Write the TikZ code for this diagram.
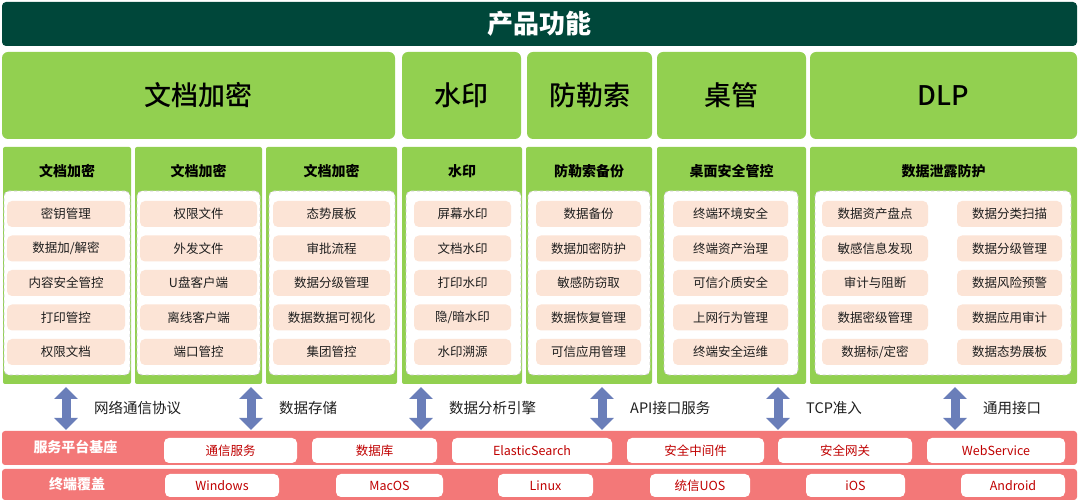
\documentclass[tikz,border=0pt]{standalone}
\usepackage{fontspec}
\setmainfont{Noto Sans CJK SC}
\newfontfamily\medfont{Noto Sans CJK SC Medium}
\usepackage{xcolor}
\usepackage{tikz}
\usetikzlibrary{arrows.meta,positioning}
\definecolor{pdgreen}{RGB}{0,71,58}
\definecolor{pdlime}{RGB}{146,208,80}
\definecolor{pdpeach}{RGB}{252,228,214}
\definecolor{pdred}{RGB}{243,120,120}
\definecolor{pdblue}{RGB}{106,126,185}
\definecolor{pddarkred}{RGB}{192,0,0}
\definecolor{pdgrey}{RGB}{200,200,200}
\definecolor{pdtext}{RGB}{30,30,30}

\begin{document}
\begin{tikzpicture}[x=1pt, y=-1pt,
    topbar/.style={fill=pdgreen, rounded corners=4pt, inner sep=0pt,
                   text=white, font=\fontsize{26}{30}\selectfont\bfseries},
    bigbox/.style={fill=pdlime, rounded corners=6pt, inner sep=0pt,
                   minimum height=87pt, font=\fontsize{27}{32}\selectfont\medfont},
    colbox/.style={fill=pdlime, rounded corners=2pt, inner sep=0pt,
                   minimum height=237pt},
    colhead/.style={inner sep=0pt, font=\fontsize{14}{16}\selectfont\bfseries},
    inner/.style={fill=white, draw=pdgrey, dashed, line width=0.8pt,
                  rounded corners=5pt, inner sep=0pt, minimum height=184pt},
    item/.style={fill=pdpeach, rounded corners=5pt, inner sep=0pt,
                 minimum height=26pt, text=pdtext,
                 font=\fontsize{12.5}{14}\selectfont},
    arr/.style={{Triangle[width=23pt,length=12pt]}-{Triangle[width=23pt,length=12pt]},
                line width=9pt, pdblue},
    lbl/.style={anchor=west, inner sep=0pt, text=pdtext,
                font=\fontsize{14.5}{16}\selectfont},
    redbar/.style={fill=pdred, rounded corners=3pt, inner sep=0pt,
                   minimum width=1075pt},
    barlabel/.style={inner sep=0pt, text=white,
                     font=\fontsize{14}{16}\selectfont\bfseries},
    pill/.style={fill=white, rounded corners=5pt, inner sep=0pt,
                 text=pddarkred, font=\fontsize{12.5}{14}\selectfont},
  ]
  \useasboundingbox (0,0) rectangle (1080,502);

  % --- Title bar ---
  \node[topbar, minimum width=1075pt, minimum height=44pt] (title) at (539.5,24) {产品功能};

  % --- Product groups ---
  \node[bigbox, minimum width=393pt] (gdoc) at (198.5,95.5) {文档加密};
  \node[bigbox, minimum width=119pt] (gwm)  at (461.5,95.5) {水印};
  \node[bigbox, minimum width=125pt] (grs)  at (589.5,95.5) {防勒索};
  \node[bigbox, minimum width=149pt] (gdsk) at (731.5,95.5) {桌管};
  \node[bigbox, minimum width=267pt] (gdlp) at (943.5,95.5) {DLP};

  % --- Column 1: 文档加密 ---
  \node[colbox, minimum width=128pt] (c1) at (67,265.5) {};
  \node[colhead] (h1) at (67,171) {文档加密};
  \node[inner, minimum width=126pt] (in1) at (67,283) {};
  \foreach \t [count=\i] in {密钥管理, 数据加/解密, 内容安全管控, 打印管控, 权限文档}
    \node[item, minimum width=118pt] (c1i\i) at (66,179.5+34.5*\i) {\t};

  % --- Column 2: 文档加密 ---
  \node[colbox, minimum width=127pt] (c2) at (198.5,265.5) {};
  \node[colhead] (h2) at (198.5,171) {文档加密};
  \node[inner, minimum width=123pt] (in2) at (198.5,283) {};
  \foreach \t [count=\i] in {权限文件, 外发文件, U盘客户端, 离线客户端, 端口管控}
    \node[item, minimum width=117pt] (c2i\i) at (198.5,179.5+34.5*\i) {\t};

  % --- Column 3: 文档加密 ---
  \node[colbox, minimum width=131pt] (c3) at (331.5,265.5) {};
  \node[colhead] (h3) at (331.5,171) {文档加密};
  \node[inner, minimum width=126pt] (in3) at (332,283) {};
  \foreach \t [count=\i] in {态势展板, 审批流程, 数据分级管理, 数据数据可视化, 集团管控}
    \node[item, minimum width=117pt] (c3i\i) at (331.5,179.5+34.5*\i) {\t};

  % --- Column 4: 水印 ---
  \node[colbox, minimum width=120pt] (c4) at (462,265.5) {};
  \node[colhead] (h4) at (462,171) {水印};
  \node[inner, minimum width=115pt] (in4) at (463.5,283) {};
  \foreach \t [count=\i] in {屏幕水印, 文档水印, 打印水印, 隐/暗水印, 水印溯源}
    \node[item, minimum width=97pt] (c4i\i) at (462.5,179.5+34.5*\i) {\t};

  % --- Column 5: 防勒索备份 ---
  \node[colbox, minimum width=126pt] (c5) at (589,265.5) {};
  \node[colhead] (h5) at (589,171) {防勒索备份};
  \node[inner, minimum width=122pt] (in5) at (589,283) {};
  \foreach \t [count=\i] in {数据备份, 数据加密防护, 敏感防窃取, 数据恢复管理, 可信应用管理}
    \node[item, minimum width=105pt] (c5i\i) at (588.5,179.5+34.5*\i) {\t};

  % --- Column 6: 桌面安全管控 ---
  \node[colbox, minimum width=149pt] (c6) at (731.5,265.5) {};
  \node[colhead] (h6) at (731.5,171) {桌面安全管控};
  \node[inner, minimum width=134pt] (in6) at (731,283) {};
  \foreach \t [count=\i] in {终端环境安全, 终端资产治理, 可信介质安全, 上网行为管理, 终端安全运维}
    \node[item, minimum width=115pt] (c6i\i) at (730.5,179.5+34.5*\i) {\t};

  % --- Column 7: 数据泄露防护 (two item rows) ---
  \node[colbox, minimum width=267pt] (c7) at (943.5,265.5) {};
  \node[colhead] (h7) at (943.5,171) {数据泄露防护};
  \node[inner, minimum width=256pt] (in7) at (943,283) {};
  \foreach \t [count=\i] in {数据资产盘点, 敏感信息发现, 审计与阻断, 数据密级管理, 数据标/定密}
    \node[item, minimum width=106pt] (c7a\i) at (875,179.5+34.5*\i) {\t};
  \foreach \t [count=\i] in {数据分类扫描, 数据分级管理, 数据风险预警, 数据应用审计, 数据态势展板}
    \node[item, minimum width=105pt] (c7b\i) at (1009.5,179.5+34.5*\i) {\t};

  % --- Interfaces between layers ---
  \foreach \x/\t [count=\i] in {66/网络通信协议, 251/数据存储, 421/数据分析引擎,
                                602/API接口服务, 778/TCP准入, 955/通用接口} {
    \coordinate (up\i) at (\x,387);
    \coordinate (dn\i) at (\x,430);
    \coordinate (mid\i) at (\x,408);
    \draw[arr] (up\i) -- (dn\i);
    \node[lbl, right=28pt of mid\i] (lab\i) {\t};
  }

  % --- Service platform ---
  \node[redbar, minimum height=34pt] (bar1) at (539.5,448) {};
  \node[barlabel] (bl1) at (75.5,447) {服务平台基座};
  \foreach \x/\w/\t [count=\i] in {230.5/133/通信服务, 374.5/125/数据库,
      532/160/ElasticSearch, 695.5/137/安全中间件, 845/134/安全网关, 996/138/WebService}
    \node[pill, minimum width=\w pt, minimum height=25pt] (s\i) at (\x,450.5) {\t};

  % --- Terminals ---
  \node[redbar, minimum height=31pt] (bar2) at (539.5,484.5) {};
  \node[barlabel] (bl2) at (77,484) {终端覆盖};
  \foreach \x/\w/\t [count=\i] in {222/114/Windows, 389.5/107/MacOS, 545.5/95/Linux,
      700/100/统信UOS, 855.5/99/iOS, 1013/104/Android}
    \node[pill, minimum width=\w pt, minimum height=23pt] (t\i) at (\x,485.5) {\t};
\end{tikzpicture}
\end{document}
